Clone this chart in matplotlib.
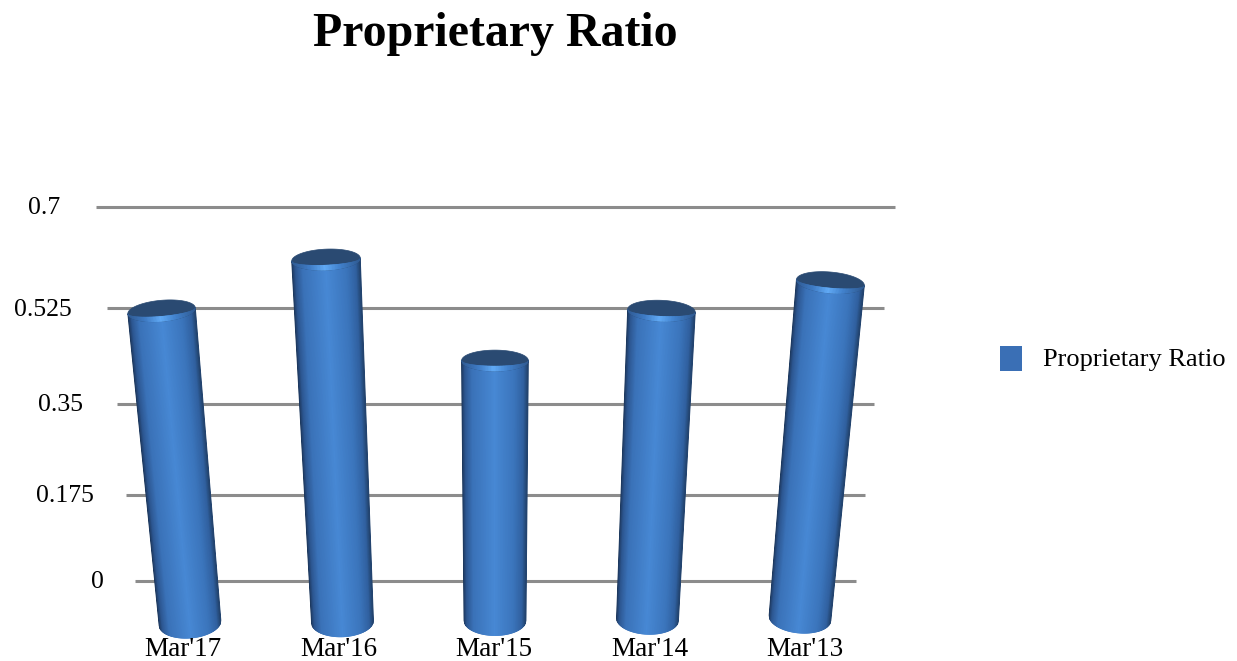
import numpy as np
import matplotlib.pyplot as plt
from matplotlib.collections import PolyCollection
from matplotlib.patches import Polygon, Rectangle
from matplotlib.colors import LinearSegmentedColormap

categories = ["Mar'17", "Mar'16", "Mar'15", "Mar'14", "Mar'13"]
ratio = [0.52, 0.61, 0.43, 0.52, 0.57]
tick_values = [0, 0.175, 0.35, 0.525, 0.7]
tick_labels = ['0', '0.175', '0.35', '0.525', '0.7']
series_name = 'Proprietary Ratio'

W, H = 1237, 661
SERIF = 'Liberation Serif'

# perspective: vertical lines meet far below the chart
VP_X, VP_Y = 495.5, 3980.0
FLOOR_Y = 581.0   # screen y of 0 on the back wall
TOP_Y = 207.0     # screen y of 0.7 on the back wall
A = 1.0 / (VP_Y - FLOOR_Y)
B = (A - 1.0 / (VP_Y - TOP_Y)) / tick_values[-1]


def wall_y(v):
    return VP_Y - 1.0 / (A - B * v)


def depth(y):
    return VP_Y - y


body_cmap = LinearSegmentedColormap.from_list('body', [
    (0.00, '#1c3558'), (0.05, '#2c5690'), (0.16, '#3a72b8'),
    (0.50, '#4788d4'), (0.80, '#3b75bc'), (0.94, '#30609f'), (1.00, '#22426c')])
rim_cmap = LinearSegmentedColormap.from_list('rim', [
    (0.00, '#2f5a92'), (0.25, '#3f7cc6'), (0.48, '#62acf8'),
    (0.70, '#4283cf'), (1.00, '#2f5a92')])

fig = plt.figure(figsize=(W / 100, H / 100), dpi=100)
ax = fig.add_axes([0, 0, 1, 1])
ax.set_xlim(0, W)
ax.set_ylim(H, 0)
ax.axis('off')

# back wall gridlines and value labels
for v, lab in zip(tick_values, tick_labels):
    y = wall_y(v)
    k = depth(y) / depth(FLOOR_Y)
    ax.plot([VP_X - 360 * k, VP_X + 360 * k], [y, y], color='#8c8c8c',
            lw=2.2, solid_capstyle='butt', zorder=1)
    ax.text(VP_X - 392 * k, y + 1.5, lab, ha='right', va='center',
            fontsize=18.5, family=SERIF, zorder=2)

# cylinders
N = 90
R0 = 31.0
B_TOP, B_BOT = 10.5, 15.0
RIM = 5.0
X0, SPACING = 190.0, 152.5
for i, v in enumerate(ratio):
    yb = 623.0 - 1.25 * i
    cb = np.array([X0 + i * SPACING, yb])
    n = np.array([VP_X - cb[0], VP_Y - yb])
    n /= np.linalg.norm(n)
    u = np.array([n[1], -n[0]])
    yt = wall_y(v)
    ct = cb + (yt - yb) / n[1] * n
    rt = R0 * depth(yt) / depth(yb)

    t = np.linspace(-1, 1, N + 1)
    arc = np.sqrt(np.clip(1 - t ** 2, 0, None))
    top_pts = ct + np.outer(t * rt, u) + np.outer(arc * B_TOP, n)
    bot_pts = cb + np.outer(t * R0, u) + np.outer(arc * B_BOT, n)
    polys = [[top_pts[j], top_pts[j + 1], bot_pts[j + 1], bot_pts[j]] for j in range(N)]
    cols = body_cmap((t[:-1] + t[1:]) / 4 + 0.5)
    ax.add_collection(PolyCollection(polys, facecolors=cols, edgecolors=cols,
                                     linewidths=0.6, zorder=3))

    phi = np.linspace(0, 2 * np.pi, 120)
    cap = ct + np.outer(np.cos(phi) * rt, u) + np.outer(np.sin(phi) * B_TOP, n)
    ax.add_patch(Polygon(cap, closed=True, facecolor='#2a4a72',
                         edgecolor='#2a4a72', lw=0.5, zorder=4))

    inner = ct + np.outer(t * rt, u) + np.outer(arc * (B_TOP - RIM), n)
    rim = [[top_pts[j], top_pts[j + 1], inner[j + 1], inner[j]] for j in range(N)]
    rcols = rim_cmap((t[:-1] + t[1:]) / 4 + 0.5)
    ax.add_collection(PolyCollection(rim, facecolors=rcols, edgecolors=rcols,
                                     linewidths=0.4, zorder=5))

    ax.text(494 + (i - 2) * 155.5, 650, categories[i], ha='center', va='center',
            fontsize=19.5, family=SERIF, zorder=6)

# legend
ax.add_patch(Rectangle((1000, 346), 22, 25, facecolor='#3a6fb5', edgecolor='none'))
ax.text(1043, 360, series_name, ha='left', va='center', fontsize=19, family=SERIF)

ax.text(495, 34, series_name, ha='center', va='center', fontsize=34.5,
        fontweight='bold', family=SERIF)

fig.savefig('out.png', dpi=100)
